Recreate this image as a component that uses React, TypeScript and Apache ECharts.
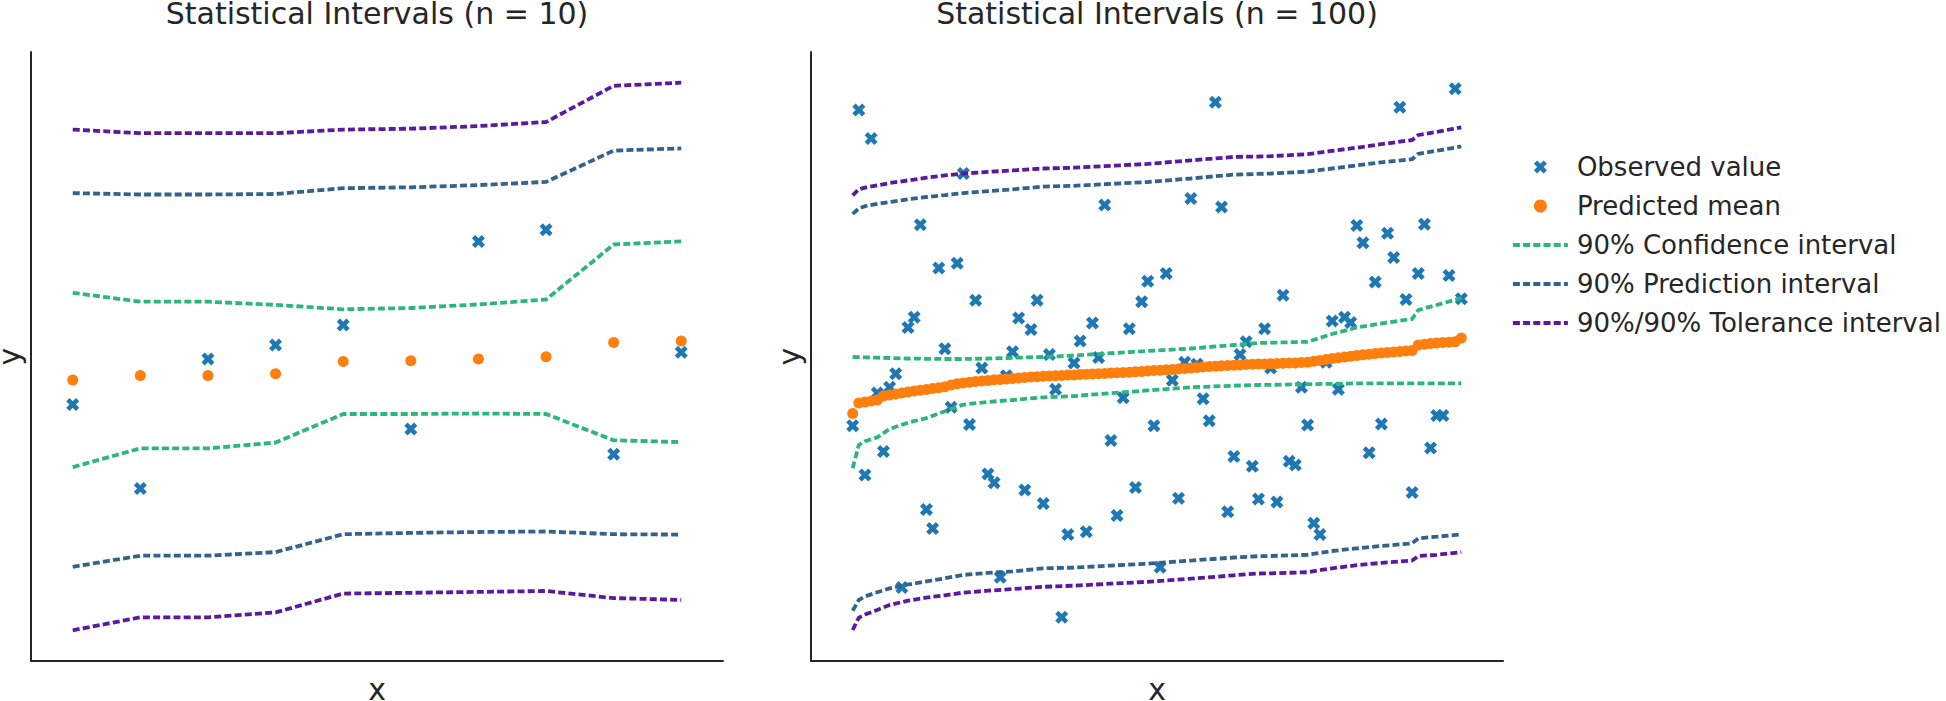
import React, { useEffect, useRef } from "react";
import * as echarts from "echarts";

// ---------- n = 10 panel ----------
const idx10 = [0, 1, 2, 3, 4, 5, 6, 7, 8, 9];
const observed10 = [25.64, 17.24, 30.2, 31.59, 33.6, 23.19, 41.96, 43.12, 20.68, 30.87];
const mean10 = [28.1, 28.55, 28.55, 28.73, 29.94, 30.02, 30.2, 30.43, 31.86, 31.99];
const ciLow10 = [19.39, 21.26, 21.26, 21.84, 24.7, 24.7, 24.75, 24.7, 22.07, 21.89];
const ciHigh10 = [36.82, 35.93, 35.93, 35.61, 35.17, 35.3, 35.66, 36.15, 41.65, 41.96];
const piLow10 = [9.42, 10.53, 10.53, 10.89, 12.68, 12.81, 12.9, 12.95, 12.68, 12.64];
const piHigh10 = [46.79, 46.65, 46.65, 46.7, 47.28, 47.37, 47.59, 47.91, 51.04, 51.26];
const tiLow10 = [3.07, 4.37, 4.37, 4.86, 6.74, 6.82, 6.91, 7.0, 6.29, 6.11];
const tiHigh10 = [53.14, 52.78, 52.78, 52.78, 53.14, 53.23, 53.49, 53.9, 57.52, 57.83];

// ---------- n = 100 panel ----------
const idx100 = Array.from({ length: 100 }, (_, i) => i);
const observed100 = [
  23.52, 55.11, 18.59, 52.26, 26.8, 20.94, 27.37, 28.72, 7.34, 33.34,
  34.38, 43.63, 15.16, 13.24, 39.31, 31.22, 25.37, 39.78, 48.75, 23.64,
  36.08, 29.3, 18.7, 17.82, 8.38, 28.53, 30.92, 34.3, 17.09, 33.15,
  36.08, 15.74, 30.65, 27.18, 4.38, 12.66, 29.8, 31.99, 12.93, 33.81,
  30.34, 45.59, 22.06, 14.55, 26.33, 33.23, 17.36, 35.92, 37.97, 23.52,
  9.38, 38.74, 28.07, 16.28, 29.88, 46.25, 29.68, 26.22, 24.02, 55.88,
  45.4, 14.93, 20.44, 30.65, 31.92, 19.48, 16.2, 33.23, 29.3, 15.89,
  36.58, 19.98, 19.59, 27.37, 23.6, 13.77, 12.66, 29.88, 34.0, 27.18,
  34.38, 33.84, 43.55, 41.82, 20.82, 37.89, 23.71, 42.78, 40.35, 55.38,
  36.15, 16.86, 38.74, 43.67, 21.29, 24.56, 24.56, 38.54, 57.23, 36.23,
];
const mean100 = [
  24.75, 25.8, 25.9, 26.0, 26.1, 26.5, 26.6, 26.7, 26.8, 26.9,
  27.0, 27.08, 27.16, 27.24, 27.32, 27.42, 27.6, 27.72, 27.8, 27.87,
  27.94, 28.0, 28.06, 28.12, 28.16, 28.2, 28.25, 28.3, 28.35, 28.39,
  28.43, 28.47, 28.5, 28.53, 28.56, 28.59, 28.61, 28.64, 28.67, 28.7,
  28.73, 28.76, 28.79, 28.82, 28.85, 28.88, 28.92, 28.96, 29.0, 29.04,
  29.08, 29.12, 29.16, 29.2, 29.25, 29.3, 29.35, 29.4, 29.44, 29.48,
  29.52, 29.55, 29.58, 29.61, 29.64, 29.67, 29.69, 29.71, 29.73, 29.75,
  29.77, 29.79, 29.81, 29.84, 29.88, 29.97, 30.06, 30.15, 30.24, 30.32,
  30.4, 30.48, 30.55, 30.62, 30.68, 30.74, 30.8, 30.86, 30.91, 30.96,
  31.0, 31.05, 31.6, 31.68, 31.74, 31.79, 31.84, 31.88, 31.93, 32.3,
];
// interval curves read at these x positions
const lineIdx100 = [0, 1, 2, 4, 6, 9, 12, 15, 18, 22, 26, 31, 36, 42, 48, 55, 62, 66, 68, 74, 78, 82, 86, 91, 92, 95, 99];
const tiHigh100 = [46.56, 47.17, 47.33, 47.56, 47.79, 48.06, 48.33, 48.56, 48.75, 48.91, 49.06, 49.25, 49.33, 49.52, 49.71, 50.06, 50.41, 50.45, 50.48, 50.68, 51.02, 51.33, 51.68, 52.1, 52.6, 52.91, 53.37];
const piHigh100 = [44.71, 45.25, 45.48, 45.71, 45.9, 46.17, 46.4, 46.59, 46.79, 46.98, 47.17, 47.44, 47.52, 47.71, 47.9, 48.25, 48.64, 48.71, 48.75, 48.94, 49.25, 49.56, 49.87, 50.18, 50.72, 51.02, 51.45];
const ciHigh100 = [30.4, 30.38, 30.36, 30.33, 30.3, 30.25, 30.22, 30.2, 30.2, 30.25, 30.32, 30.4, 30.55, 30.78, 31.0, 31.25, 31.6, 31.8, 31.83, 31.92, 32.7, 33.35, 33.75, 34.2, 35.1, 35.6, 36.3];
const ciLow100 = [19.28, 21.6, 21.98, 22.36, 23.21, 23.83, 24.29, 24.98, 25.64, 25.91, 26.1, 26.37, 26.49, 26.79, 27.06, 27.37, 27.53, 27.6, 27.62, 27.68, 27.72, 27.76, 27.76, 27.76, 27.77, 27.77, 27.77];
const piLow100 = [5.03, 6.11, 6.46, 6.88, 7.26, 7.65, 7.96, 8.27, 8.61, 8.81, 8.96, 9.27, 9.34, 9.54, 9.73, 10.04, 10.35, 10.48, 10.5, 10.62, 11.0, 11.27, 11.5, 11.77, 12.27, 12.43, 12.66];
const tiLow100 = [3.1, 4.34, 4.64, 5.11, 5.61, 6.03, 6.34, 6.57, 6.84, 7.03, 7.19, 7.42, 7.53, 7.73, 7.92, 8.23, 8.57, 8.75, 8.77, 8.88, 9.27, 9.58, 9.81, 10.04, 10.5, 10.62, 10.89];

const titles = ["Statistical Intervals (n = 10)", "Statistical Intervals (n = 100)"];
const legendNames = [
  "Observed value",
  "Predicted mean",
  "90% Confidence interval",
  "90% Prediction interval",
  "90%/90% Tolerance interval",
];

const FONT = "DejaVu Sans, sans-serif";
const INK = "#262626";
const C_OBS = "#1f77b4";
const C_MEAN = "#ff7f0e";
const C_CI = "#2db67c";
const C_PI = "#33638d";
const C_TI = "#5b1a9e";
const DASH = [7, 3.2];
const LINE_W = 3.8;
const X_PATH = "path://M-1,-2L0,-1L1,-2L2,-1L1,0L2,1L1,2L0,1L-1,2L-2,1L-1,0L-2,-1Z";

const panels = [
  { idx: idx10, obs: observed10, mean: mean10, lineIdx: idx10, ciLow: ciLow10, ciHigh: ciHigh10, piLow: piLow10, piHigh: piHigh10, tiLow: tiLow10, tiHigh: tiHigh10, xMin: -0.617, xMax: 9.617 },
  { idx: idx100, obs: observed100, mean: mean100, lineIdx: lineIdx100, ciLow: ciLow100, ciHigh: ciHigh100, piLow: piLow100, piHigh: piHigh100, tiLow: tiLow100, tiHigh: tiHigh100, xMin: -6.78, xMax: 105.78 },
];

const GRID_LEFTS = [31, 811];
const GRID_TOP = 52;
const GRID_W = 692;
const GRID_H = 609;

function buildOption(): any {
  const axisCommon = {
    axisLine: { show: true, onZero: false, lineStyle: { color: INK, width: 2 } },
    axisTick: { show: false },
    axisLabel: { show: false },
    splitLine: { show: false },
  };
  const series: any[] = [];
  panels.forEach((p, k) => {
    series.push({
      type: "scatter",
      name: legendNames[0],
      xAxisIndex: k,
      yAxisIndex: k,
      data: p.idx.map((x, i) => [x, p.obs[i]]),
      symbol: X_PATH,
      symbolSize: 13,
      itemStyle: { color: C_OBS, opacity: 1 },
      z: 2,
      silent: true,
    });
    series.push({
      type: "scatter",
      name: legendNames[1],
      xAxisIndex: k,
      yAxisIndex: k,
      data: p.idx.map((x, i) => [x, p.mean[i]]),
      symbol: "circle",
      symbolSize: 11,
      itemStyle: { color: C_MEAN, opacity: 1 },
      z: 3,
      silent: true,
    });
    const lines: [string, string, number[], number[]][] = [
      [legendNames[2], C_CI, p.ciLow, p.ciHigh],
      [legendNames[3], C_PI, p.piLow, p.piHigh],
      [legendNames[4], C_TI, p.tiLow, p.tiHigh],
    ];
    lines.forEach(([name, color, lo, hi]) => {
      [lo, hi].forEach((vals) => {
        series.push({
          type: "line",
          name,
          xAxisIndex: k,
          yAxisIndex: k,
          data: p.lineIdx.map((x, i) => [x, vals[i]]),
          symbol: "none",
          showSymbol: false,
          lineStyle: { color, width: LINE_W, type: DASH, cap: "butt" },
          itemStyle: { color },
          z: 4,
          silent: true,
        });
      });
    });
  });

  const textStyle = { fontFamily: FONT, fill: INK, align: "center", verticalAlign: "middle" };
  const graphic: any[] = [];
  GRID_LEFTS.forEach((gl, k) => {
    const cx = gl + GRID_W / 2;
    graphic.push({ type: "text", x: cx, y: 13, style: { ...textStyle, text: titles[k], fontSize: 30 } });
    graphic.push({ type: "text", x: cx, y: 689, style: { ...textStyle, text: "x", fontSize: 30 } });
    graphic.push({ type: "text", x: gl - 22, y: GRID_TOP + GRID_H / 2, rotation: Math.PI / 2, style: { ...textStyle, text: "y", fontSize: 30 } });
  });

  const hiddenSymbol = { opacity: 0, color: "rgba(0,0,0,0)", borderWidth: 0 };

  return {
    animation: false,
    backgroundColor: "#ffffff",
    grid: GRID_LEFTS.map((gl) => ({ left: gl, top: GRID_TOP, width: GRID_W, height: GRID_H })),
    xAxis: panels.map((p, k) => ({ gridIndex: k, type: "value", min: p.xMin, max: p.xMax, ...axisCommon })),
    yAxis: panels.map((p, k) => ({ gridIndex: k, type: "value", min: 0, max: 60.9, ...axisCommon })),
    legend: {
      orient: "vertical",
      left: 1506,
      top: 149,
      itemWidth: 55,
      itemHeight: 13,
      itemGap: 13,
      selectedMode: false,
      data: [
        { name: legendNames[0] },
        { name: legendNames[1] },
        { name: legendNames[2], itemStyle: hiddenSymbol },
        { name: legendNames[3], itemStyle: hiddenSymbol },
        { name: legendNames[4], itemStyle: hiddenSymbol },
      ],
      textStyle: { fontFamily: FONT, fontSize: 26, color: INK, lineHeight: 26, padding: [0, 0, 0, 4] },
      lineStyle: { width: LINE_W, opacity: 1 },
    },
    graphic,
    series,
  };
}

export default function App() {
  const ref = useRef<HTMLDivElement>(null);
  useEffect(() => {
    if (!ref.current) return;
    const chart = echarts.init(ref.current, undefined, { renderer: "svg" });
    chart.setOption(buildOption());
    return () => chart.dispose();
  }, []);
  return (
    <div
      ref={ref}
      style={{ position: "absolute", left: 0, top: 0, width: 1946, height: 701, background: "#fff" }}
    />
  );
}
